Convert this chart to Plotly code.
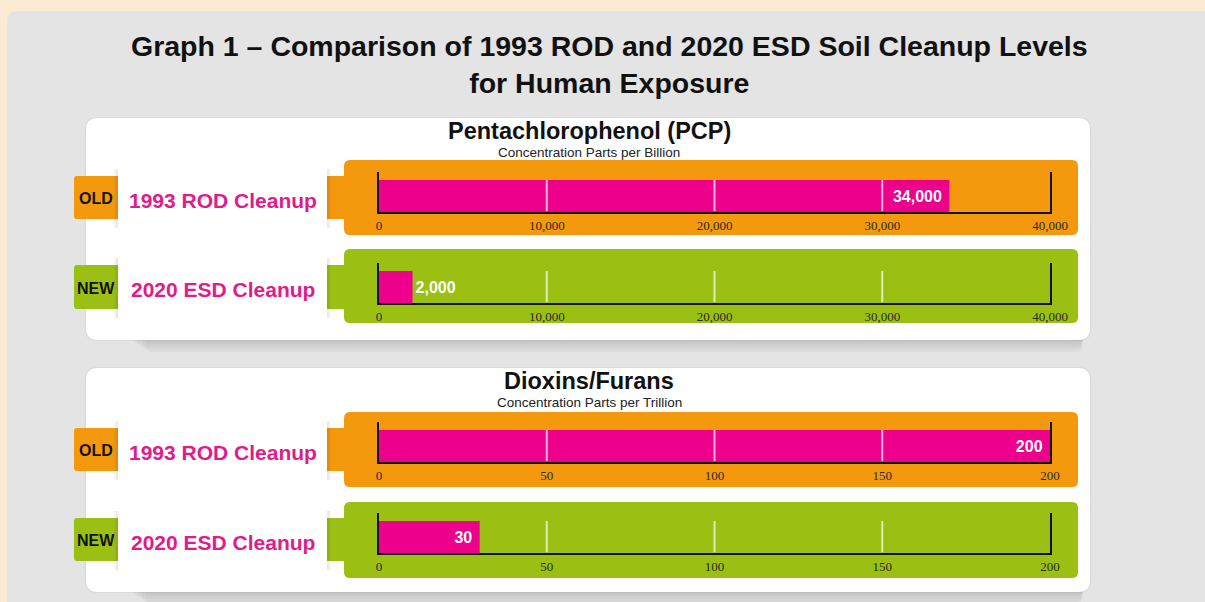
import plotly.graph_objects as go

# ---------------- data ----------------
group_titles = ["Pentachlorophenol (PCP)", "Dioxins/Furans"]
group_units = ["Concentration Parts per Billion", "Concentration Parts per Trillion"]
row_labels = ["1993 ROD Cleanup", "2020 ESD Cleanup"]
row_tags = ["OLD", "NEW"]
pcp_values = [34000, 2000]
dioxin_values = [200, 30]
pcp_ticks = [0, 10000, 20000, 30000, 40000]
dioxin_ticks = [0, 50, 100, 150, 200]

# ---------------- styling / geometry ----------------
W, H = 1205, 602
ORANGE = "#F4990E"
GREEN = "#9BC013"
PINK = "#EC008C"
MAGENTA = "#E01B8A"
GRAY_BG = "#E4E4E4"
BEIGE = "#FCEBD3"

def X(px):
    return px / W

def Y(py):
    return 1 - py / H

def rrect(x0, y0, x1, y1, r, fill, layer="below"):
    rx, ry = r, r
    pts = (
        f"M {X(x0+rx)},{Y(y0)} L {X(x1-rx)},{Y(y0)} Q {X(x1)},{Y(y0)} {X(x1)},{Y(y0+ry)} "
        f"L {X(x1)},{Y(y1-ry)} Q {X(x1)},{Y(y1)} {X(x1-rx)},{Y(y1)} "
        f"L {X(x0+rx)},{Y(y1)} Q {X(x0)},{Y(y1)} {X(x0)},{Y(y1-ry)} "
        f"L {X(x0)},{Y(y0+ry)} Q {X(x0)},{Y(y0)} {X(x0+rx)},{Y(y0)} Z"
    )
    return dict(type="path", path=pts, xref="paper", yref="paper", fillcolor=fill,
                line=dict(width=0), layer=layer)

def rect(x0, y0, x1, y1, fill, layer="below"):
    return dict(type="rect", xref="paper", yref="paper", x0=X(x0), x1=X(x1), y0=Y(y1), y1=Y(y0),
                fillcolor=fill, line=dict(width=0), layer=layer)

PLOT_X0, PLOT_X1 = 379, 1050
cards = [(118, 340), (368, 592)]
group_title_y = [(131, 152), (381, 402)]
# per row: box top, box bottom, tab top, tab bottom, axis y
rows_geo = [
    (160, 235, 176, 219, 212),
    (249, 323, 265, 309, 303),
    (412, 487, 428, 471, 462),
    (502, 578, 518, 561, 553),
]

shapes = []
annotations = []

# gray panel
shapes.append(rrect(7, 11, 1215, 615, 10, GRAY_BG))

# cards with shadows
for (cy0, cy1) in cards:
    for k in range(5):
        off = 2 + k * 2.5
        shapes.append(rrect(130 + k * 4, cy1 - 10, 1084 - k * 0.5, cy1 + off, 6, "rgba(0,0,0,0.028)"))
    shapes.append(rrect(84.5, cy0 - 1, 1091.5, cy1 + 1, 13, "rgba(0,0,0,0.035)"))
    shapes.append(rrect(86, cy0, 1090, cy1, 12, "white"))

fig = go.Figure()

series = [(pcp_values, pcp_ticks), (dioxin_values, dioxin_ticks)]
idx = 0
for g in range(2):
    vals, ticks = series[g]
    ty, uy = group_title_y[g]
    annotations.append(dict(x=X(589), y=Y(ty), xref="paper", yref="paper", showarrow=False,
                            text=f"<b>{group_titles[g]}</b>", font=dict(family="Liberation Sans", size=23.5, color="#111"),
                            xanchor="center", yanchor="middle"))
    annotations.append(dict(x=X(589), y=Y(uy), xref="paper", yref="paper", showarrow=False,
                            text=group_units[g], font=dict(family="Liberation Sans", size=13.5, color="#222"),
                            xanchor="center", yanchor="middle"))
    for r in range(2):
        bt, bb, tt, tb, ay = rows_geo[idx]
        col = ORANGE if r == 0 else GREEN
        # ribbon strip (tag + connector)
        shapes.append(rrect(74, tt, 350, tb, 3, col))
        # big box
        shapes.append(rrect(344, bt, 1078, bb, 6, col))
        # white label panel with soft side shadows
        for off, a in [(4, 0.035), (2, 0.05)]:
            shapes.append(rect(118 - off, tt - 7, 327 + off, tb + 9, f"rgba(0,0,0,{a})"))
        shapes.append(rect(118, tt - 7, 327, tb + 9, "white"))
        # texts
        annotations.append(dict(x=X(96), y=Y((tt + tb) / 2 + 1), xref="paper", yref="paper", showarrow=False,
                                text=f"<b>{row_tags[r]}</b>", font=dict(family="Liberation Sans", size=16, color="#111"),
                                xanchor="center", yanchor="middle"))
        annotations.append(dict(x=X(223), y=Y((tt + tb) / 2 + 3), xref="paper", yref="paper", showarrow=False,
                                text=f"<b>{row_labels[r]}</b>", font=dict(family="Liberation Sans", size=21, color=MAGENTA),
                                xanchor="center", yanchor="middle"))

        n = idx + 1
        xa = "x" if n == 1 else f"x{n}"
        ya = "y" if n == 1 else f"y{n}"
        v = vals[r]
        inside = v / ticks[-1] > 0.1
        fig.add_trace(go.Bar(
            x=[v], y=[0.4], width=[0.8], orientation="h",
            marker=dict(color=PINK, line=dict(width=0)),
            texttemplate="<b>%{x:,}</b>&nbsp;" if inside else "<b>%{x:,}</b>",
            textposition="inside" if inside else "outside",
            insidetextanchor="end",
            textfont=dict(family="Liberation Sans", size=16, color="white"),
            cliponaxis=False,
            xaxis=xa, yaxis=ya, hoverinfo="skip", showlegend=False,
        ))
        dom_x = [X(PLOT_X0), X(PLOT_X1)]
        dom_y = [Y(ay), Y(ay - 40)]
        fig.layout[("xaxis" if n == 1 else f"xaxis{n}")] = dict(
            domain=dom_x, anchor=ya, range=[0, ticks[-1]], tickvals=ticks, tickformat=",",
            showline=True, linecolor="#111", linewidth=2, showgrid=False, zeroline=False,
            ticks="", ticklabelstandoff=0, automargin=False,
            tickfont=dict(family="Liberation Serif", size=13, color="#2a2a2a"),
            fixedrange=True,
        )
        fig.layout[("yaxis" if n == 1 else f"yaxis{n}")] = dict(
            domain=dom_y, anchor=xa, range=[0, 1], showline=True, mirror=True, linecolor="#111",
            linewidth=2, showgrid=False, zeroline=False, showticklabels=False, ticks="", fixedrange=True,
            automargin=False,
        )
        for t in ticks[1:-1]:
            shapes.append(dict(type="line", xref=xa, yref=f"{ya} domain", x0=t, x1=t, y0=0.02, y1=0.8,
                               line=dict(color="rgba(255,255,255,0.7)", width=2), layer="above"))
        idx += 1

annotations.append(dict(x=X(609), y=Y(64), xref="paper", yref="paper", showarrow=False,
                        text="<b>Graph 1 – Comparison of 1993 ROD and 2020 ESD Soil Cleanup Levels</b><br><b>for Human Exposure</b>",
                        font=dict(family="Liberation Sans", size=28.5, color="#111"),
                        xanchor="center", yanchor="middle", align="center"))

fig.update_layout(
    width=W, height=H, autosize=False,
    margin=dict(l=0, r=0, t=0, b=0, pad=0, autoexpand=False),
    paper_bgcolor=BEIGE, plot_bgcolor="rgba(0,0,0,0)",
    shapes=shapes, annotations=annotations,
    barmode="overlay", showlegend=False,
)

fig.write_html(
    "out.html",
    config={"displayModeBar": False, "responsive": False},
    post_script=(
        "document.documentElement.style.margin='0';document.documentElement.style.overflow='hidden';"
        "document.body.style.margin='0';document.body.style.overflow='hidden';"
    ),
)
